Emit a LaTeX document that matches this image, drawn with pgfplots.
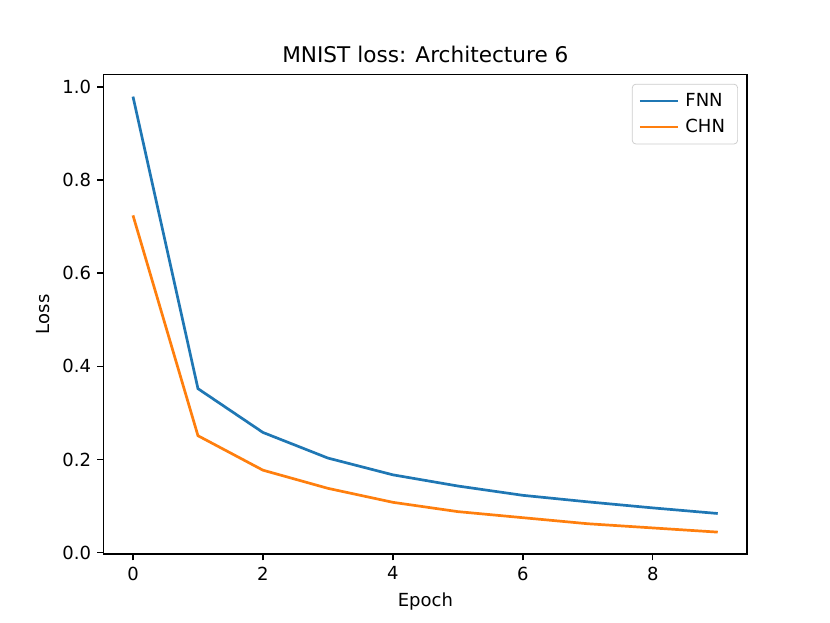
\documentclass[border=0pt]{standalone}
\usepackage{pgfplots}
\pgfplotsset{compat=1.18}
\usepackage{fontspec}
\setmainfont{DejaVu Sans}
\definecolor{tabblue}{HTML}{1F77B4}
\definecolor{taborange}{HTML}{FF7F0E}
\begin{document}
\begin{tikzpicture}
\useasboundingbox (-57.6pt,-38.02pt) rectangle (403.2pt,307.58pt);
\begin{axis}[
  at={(0,0)}, anchor=south west,
  scale only axis,
  width=357.12pt, height=266.11pt,
  xmin=-0.45, xmax=9.45,
  ymin=-0.003, ymax=1.026,
  xtick={0,2,4,6,8},
  ytick={0,0.2,0.4,0.6,0.8,1.0},
  yticklabel style={/pgf/number format/.cd, fixed, fixed zerofill, precision=1},
  /pgf/number format/assume math mode=true,
  tick align=outside,
  tick pos=left,
  major tick length=3.5pt,
  every tick/.style={black, line width=0.8pt},
  axis line style={line width=0.8pt},
  ticklabel style={font=\fontsize{10}{12}\selectfont},
  title={MNIST loss: Architecture 6},
  title style={font=\fontsize{12}{14}\selectfont, at={(0.5,1)}, anchor=base, yshift=0.5pt},
  xlabel={Epoch},
  ylabel={Loss},
  label style={font=\fontsize{10}{12}\selectfont},
  legend style={at={(0.986,0.981)}, anchor=north east, draw=black!20, rounded corners=2pt,
    font=\fontsize{10}{12}\selectfont, inner xsep=3.5pt, inner ysep=3pt, row sep=1.5pt,
    nodes={inner xsep=3.5pt}},
  legend cell align=left,
  legend image code/.code={\draw[#1, line width=1.5pt] (0pt,0pt) -- (21pt,0pt);},
  legend image post style={line width=1.5pt},
]
\addplot[tabblue, line width=1.5pt] coordinates {
(0,0.979) (1,0.352) (2,0.258) (3,0.203) (4,0.167) (5,0.143) (6,0.123) (7,0.109) (8,0.096) (9,0.084)};
\addlegendentry{FNN}
\addplot[taborange, line width=1.5pt] coordinates {
(0,0.724) (1,0.251) (2,0.177) (3,0.138) (4,0.108) (5,0.088) (6,0.075) (7,0.062) (8,0.053) (9,0.044)};
\addlegendentry{CHN}
\end{axis}
\end{tikzpicture}
\end{document}
